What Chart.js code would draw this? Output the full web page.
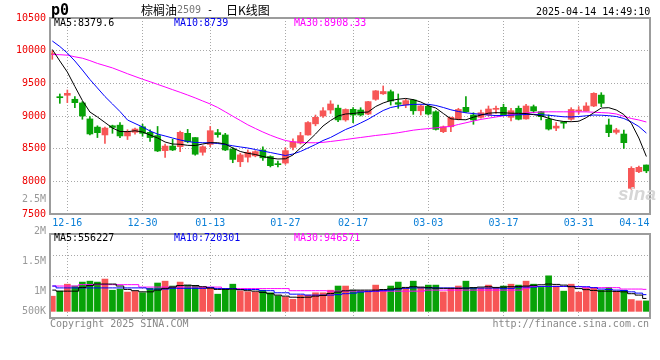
<!DOCTYPE html>
<html>
<head>
<meta charset="utf-8">
<script src="https://cdn.jsdelivr.net/npm/chart.js@4/dist/chart.umd.min.js"></script>
<style>
  html, body { margin: 0; padding: 0; background: #fff; }
  #wrap { position: relative; width: 660px; height: 360px; overflow: hidden;
          font-family: 'DejaVu Sans Mono', monospace; font-size: 10px; }
  #wrap canvas { position: absolute; left: 0; }
  .t { position: absolute; white-space: nowrap; line-height: 12px; }
  .cjk { font-family: 'Noto Sans CJK SC', sans-serif; font-size: 12px; line-height: 13px; }
  .axis-gray { color: #999; text-align: right; width: 46px; left: 0; }
</style>
</head>
<body>
<div id="wrap">
  <canvas id="priceChart" width="660" height="232" style="top:0"></canvas>
  <canvas id="volChart" width="660" height="90" style="top:230px"></canvas>

  <div class="t" style="left:51px;top:2px;font-weight:bold;font-size:15px;line-height:16px">p0</div>
  <div class="t cjk" style="left:141px;top:3px">棕榈油</div>
  <div class="t" style="left:177px;top:4px;color:#777">2509</div>
  <div class="t" style="left:207px;top:4px">-</div>
  <div class="t cjk" style="left:226px;top:3px">日K线图</div>
  <div class="t" style="left:536px;top:6px">2025-04-14 14:49:10</div>

  <div class="t" style="left:54px;top:17px;color:#000">MA5:8379.6</div>
  <div class="t" style="left:174px;top:17px;color:#0000ee">MA10:8739</div>
  <div class="t" style="left:294px;top:17px;color:#ff00ff">MA30:8908.33</div>

  <div class="t" style="left:54px;top:232px;color:#000">MA5:556227</div>
  <div class="t" style="left:174px;top:232px;color:#0000ee">MA10:720301</div>
  <div class="t" style="left:294px;top:232px;color:#ff00ff">MA30:946571</div>

  <div class="t" style="left:618px;top:184px;font-family:'Liberation Sans',sans-serif;font-style:italic;font-weight:bold;font-size:19px;line-height:20px;color:#d6d6d6">sina</div>

  <div class="t" style="left:50px;top:318px;color:#888">Copyright 2025 SINA.COM</div>
  <div class="t" style="right:11px;top:318px;color:#888">http://finance.sina.com.cn</div>
  <div id="volAxis"></div>
</div>
<script>
// trading days shown (Sina daily K, palm oil 2509)
const dates = [
  '12-12','12-13','12-16','12-17','12-18','12-19','12-20','12-23','12-24','12-25',
  '12-26','12-27','12-30','12-31','01-02','01-03','01-06','01-07','01-08','01-09',
  '01-10','01-13','01-14','01-15','01-16','01-17','01-20','01-21','01-22','01-23',
  '01-24','01-27','02-05','02-06','02-07','02-10','02-11','02-12','02-13','02-14',
  '02-17','02-18','02-19','02-20','02-21','02-24','02-25','02-26','02-27','02-28',
  '03-03','03-04','03-05','03-06','03-07','03-10','03-11','03-12','03-13','03-14',
  '03-17','03-18','03-19','03-20','03-21','03-24','03-25','03-26','03-27','03-28',
  '03-31','04-01','04-02','04-03','04-07','04-08','04-09','04-10','04-11','04-14'
];

const openPx = [
  9940, 9290, 9317, 9256, 9200, 8955, 8830, 8710, 8850, 8860,
  8695, 8750, 8835, 8750, 8700, 8470, 8540, 8530, 8735, 8670,
  8445, 8565, 8745, 8710, 8495, 8300, 8370, 8390, 8480, 8380,
  8270, 8280, 8520, 8585, 8710, 8880, 9000, 9092, 9120, 8940,
  9102, 9092, 9030, 9255, 9340, 9372, 9205, 9170, 9245, 9080,
  9150, 9065, 8760, 8835, 8955, 9133, 9015, 8980, 9015, 9102,
  9133, 8980, 9118, 8955, 9143, 9066, 8950, 8815, 8910, 8950,
  9077, 9077, 9153, 9320, 8862, 8750, 8724, 7893, 8147, 8250
];
const highPx = [
  10000, 9337, 9398, 9296, 9220, 8990, 8850, 8830, 8860, 8900,
  8790, 8815, 8875, 8790, 8840, 8570, 8645, 8770, 8795, 8670,
  8545, 8840, 8795, 8735, 8515, 8430, 8480, 8470, 8530, 8390,
  8310, 8515, 8650, 8750, 8915, 9015, 9130, 9234, 9168, 9110,
  9127, 9127, 9225, 9390, 9460, 9398, 9337, 9255, 9255, 9170,
  9170, 9080, 8847, 8985, 9118, 9296, 9050, 9092, 9153, 9153,
  9180, 9118, 9153, 9179, 9168, 9070, 9015, 8898, 8915, 9127,
  9143, 9204, 9357, 9357, 8954, 8812, 8786, 8224, 8235, 8250
];
const lowPx = [
  9868, 9194, 9204, 9127, 8950, 8710, 8670, 8580, 8735, 8670,
  8640, 8720, 8690, 8610, 8455, 8365, 8470, 8455, 8590, 8400,
  8400, 8530, 8675, 8470, 8285, 8225, 8295, 8375, 8320, 8220,
  8220, 8260, 8480, 8570, 8705, 8850, 8980, 9040, 8913, 8920,
  8898, 9000, 9020, 9240, 9330, 9168, 9117, 9127, 9025, 9015,
  9015, 8785, 8745, 8760, 8940, 9055, 8873, 8965, 9000, 9041,
  9005, 8924, 8940, 8950, 9050, 8940, 8785, 8775, 8812, 8935,
  9030, 9075, 9143, 9143, 8684, 8724, 8505, 7878, 8132, 8132
];
const closePx = [
  9945, 9280, 9347, 9204, 9000, 8725, 8745, 8815, 8825, 8695,
  8765, 8800, 8735, 8670, 8465, 8540, 8480, 8750, 8605, 8415,
  8530, 8775, 8715, 8480, 8335, 8405, 8445, 8455, 8360, 8240,
  8255, 8470, 8605, 8700, 8900, 8980, 9080, 9184, 8940, 9100,
  9015, 9015, 9220, 9385, 9375, 9230, 9180, 9235, 9080, 9155,
  9030, 8795, 8835, 8980, 9100, 9065, 8940, 9050, 9107, 9118,
  9015, 9081, 8950, 9153, 9077, 8990, 8800, 8845, 8890, 9100,
  9092, 9153, 9347, 9195, 8745, 8786, 8592, 8199, 8214, 8160
];

const ma5 = [
  10018, 9842, 9673, 9452, 9237, 9061, 8985, 8901, 8816, 8763,
  8760, 8774, 8755, 8709, 8663, 8602, 8571, 8567, 8551, 8548,
  8571, 8591, 8591, 8571, 8510, 8457, 8429, 8411, 8380, 8357,
  8342, 8345, 8403, 8510, 8613, 8724, 8847, 8931, 9000, 9031,
  9038, 9054, 9061, 9145, 9199, 9237, 9257, 9269, 9250, 9214,
  9158, 9122, 9038, 8957, 8946, 8942, 8982, 9015, 9043, 9051,
  9049, 9043, 9041, 9038, 9021, 9003, 8965, 8934, 8916, 8913,
  8919, 8974, 9049, 9122, 9127, 9092, 9023, 8888, 8663, 8380
];
const ma10 = [
  10148, 10064, 9964, 9842, 9704, 9559, 9429, 9298, 9184, 9069,
  8939, 8885, 8832, 8770, 8724, 8694, 8663, 8633, 8610, 8594,
  8591, 8590, 8579, 8564, 8544, 8526, 8510, 8487, 8464, 8441,
  8418, 8395, 8418, 8457, 8510, 8564, 8625, 8671, 8732, 8793,
  8839, 8893, 8950, 9018, 9084, 9130, 9153, 9168, 9178, 9179,
  9179, 9161, 9130, 9095, 9069, 9049, 9037, 9026, 9015, 9006,
  9008, 9012, 9018, 9023, 9026, 9020, 9012, 9000, 8988, 8985,
  8992, 9003, 9015, 9012, 9005, 8992, 8962, 8908, 8839, 8739
];
const ma30 = [
  9941, 9938, 9931, 9906, 9885, 9848, 9805, 9771, 9736, 9692,
  9647, 9605, 9563, 9525, 9484, 9444, 9403, 9363, 9321, 9277,
  9230, 9184, 9130, 9064, 8997, 8931, 8865, 8809, 8755, 8706,
  8663, 8625, 8605, 8597, 8591, 8590, 8597, 8610, 8624, 8640,
  8656, 8671, 8686, 8702, 8714, 8728, 8744, 8763, 8783, 8796,
  8807, 8819, 8830, 8842, 8870, 8896, 8923, 8948, 8966, 8985,
  9003, 9020, 9034, 9046, 9055, 9061, 9064, 9064, 9064, 9064,
  9064, 9063, 9058, 9052, 9046, 9031, 8995, 8962, 8939, 8908
];

// volume in thousands of lots
const volume = [
  652, 870, 1170, 1090, 1260, 1300, 1260, 1390, 910, 960,
  830, 860, 800, 990, 1220, 1300, 1090, 1260, 1120, 1120,
  1030, 1030, 740, 990, 1170, 880, 840, 840, 910, 800,
  670, 620, 520, 700, 700, 800, 800, 910, 1090, 1090,
  910, 880, 870, 1130, 910, 1090, 1260, 1000, 1300, 1030,
  1130, 1130, 840, 970, 1090, 1300, 1030, 990, 1130, 990,
  1090, 1170, 1130, 1300, 1170, 1030, 1530, 1090, 870, 1170,
  830, 990, 1030, 910, 1030, 870, 910, 510, 450, 450
];
const volMa5 = [
  915, 870, 870, 870, 1030, 1110, 1175, 1175, 1175, 1090,
  945, 890, 840, 840, 915, 990, 1045, 1110, 1130, 1110,
  1060, 1000, 945, 945, 960, 930, 890, 870, 815, 760,
  700, 655, 610, 600, 610, 655, 685, 770, 830, 885,
  915, 915, 915, 915, 940, 960, 990, 1030, 1060, 1045,
  1020, 1000, 990, 990, 990, 1000, 1020, 1045, 1060, 1030,
  1045, 1060, 1065, 1090, 1120, 1145, 1175, 1160, 1130, 1060,
  980, 935, 900, 870, 870, 860, 840, 760, 700, 556
];
const volMa10 = [
  1090, 1010, 1010, 1010, 1010, 1010, 1010, 1010, 1010, 1010,
  1010, 1010, 1010, 960, 960, 960, 990, 990, 990, 990,
  990, 1030, 980, 980, 980, 940, 940, 940, 890, 890,
  800, 800, 740, 740, 700, 700, 700, 700, 720, 760,
  785, 830, 850, 870, 890, 915, 960, 990, 1010, 1010,
  1010, 1010, 1010, 1010, 1000, 1000, 1000, 1000, 1000, 1000,
  990, 990, 1045, 1045, 1045, 1075, 1075, 1075, 1075, 1075,
  1060, 1060, 1020, 960, 940, 915, 900, 840, 785, 720
];
const volMa30 = [
  1090, 1090, 1090, 1090, 1150, 1150, 1150, 1150, 1150, 1150,
  1150, 1150, 1045, 1045, 1045, 1045, 1045, 1045, 1045, 1045,
  1045, 1045, 1045, 980, 980, 980, 980, 980, 980, 980,
  980, 980, 890, 890, 890, 890, 890, 870, 870, 870,
  870, 870, 870, 870, 870, 870, 870, 870, 870, 870,
  915, 915, 915, 915, 915, 915, 915, 915, 915, 915,
  915, 915, 915, 1000, 1070, 1070, 1070, 1070, 1070, 1070,
  1070, 1020, 1020, 1020, 1020, 1020, 960, 960, 960, 947
];

const gridDays = ['12-16', '12-30', '01-13', '01-27', '02-17', '03-03', '03-17', '03-31'];
const priceTicks = [7500, 8000, 8500, 9000, 9500, 10000, 10500];
const volTickLabels = ['2.5M', '2M', '1.5M', '1M', '500K'];

const RED = '#f75656';
const GREEN = '#08a208';
const GRID = '#a8a8a8';
const FONT = { family: "'DejaVu Sans Mono', monospace", size: 10 };

Chart.defaults.font = { ...Chart.defaults.font, ...FONT };

const N = dates.length;
const X_MIN = -0.306;
const X_MAX = N - 1 + 0.48;
const gridIdx = gridDays.map((d) => dates.indexOf(d));
// the last date is written flush with the right edge, without a grid line
const lastLabelAt = N - 1 - 1.6;

const candleColor = closePx.map((c, i) => (c >= openPx[i] ? RED : GREEN));
const pts = (arr) => arr.map((v, i) => ({ x: i, y: v }));

const framePlugin = {
    id: 'frame',
    afterDraw(chart) {
        const { ctx, chartArea: a } = chart;
        ctx.save();
        ctx.strokeStyle = '#9c9c9c';
        ctx.lineWidth = 2;
        ctx.strokeRect(a.left, a.top, a.right - a.left, a.bottom - a.top);
        ctx.restore();
    },
};

const xAxis = (withLabels) => ({
    type: 'linear',
    min: X_MIN,
    max: X_MAX,
    offset: false,
    afterBuildTicks: (s) => {
        s.ticks = gridIdx.map((v) => ({ value: v }));
        if (withLabels) s.ticks.push({ value: lastLabelAt });
    },
    afterFit: (s) => {
        s.height = withLabels ? 18 : 0;
    },
    grid: {
        offset: false,
        color: (ctx) => (ctx.tick && ctx.tick.value === lastLabelAt ? 'rgba(0,0,0,0)' : GRID),
        drawTicks: false,
    },
    border: { display: false, dash: [1, 2] },
    ticks: {
        display: withLabels,
        autoSkip: false,
        maxRotation: 0,
        padding: 3,
        color: '#0b7fd7',
        font: FONT,
        callback: (v) => (v === lastLabelAt ? dates[N - 1] : dates[Math.round(v)]),
    },
});

const lineSet = (data, color, extra = {}) => ({
    type: 'line',
    data: pts(data),
    borderColor: color,
    borderWidth: 1,
    pointRadius: 0,
    fill: false,
    tension: 0,
    order: 0,
    ...extra,
});

const createPriceChart = () => {
    const ctx = document.getElementById('priceChart').getContext('2d');
    return new Chart(ctx, {
        type: 'bar',
        data: {
            datasets: [
                lineSet(ma5, '#000000'),
                lineSet(ma10, '#0000ff'),
                lineSet(ma30, '#ff00ff'),
                {
                    data: dates.map((d, i) => ({
                        x: i,
                        y: [Math.min(openPx[i], closePx[i]), Math.max(openPx[i], closePx[i])],
                    })),
                    backgroundColor: candleColor,
                    barThickness: 6,
                    minBarLength: 1,
                    grouped: false,
                    order: 1,
                },
                {
                    data: dates.map((d, i) => ({ x: i, y: [lowPx[i], highPx[i]] })),
                    backgroundColor: candleColor,
                    barThickness: 1,
                    grouped: false,
                    order: 2,
                },
            ],
        },
        options: {
            responsive: false,
            animation: false,
            layout: { padding: { top: 18, right: 10, left: 0, bottom: 0 } },
            plugins: { legend: { display: false }, tooltip: { enabled: false } },
            scales: {
                x: xAxis(true),
                y: {
                    min: priceTicks[0],
                    max: priceTicks[priceTicks.length - 1],
                    afterBuildTicks: (s) => {
                        s.ticks = priceTicks.map((v) => ({ value: v }));
                    },
                    afterFit: (s) => {
                        s.width = 50;
                    },
                    grid: { color: GRID, drawTicks: false },
                    border: { display: false, dash: [1, 2] },
                    ticks: { color: '#ee0000', padding: 4, font: FONT, callback: (v) => String(v) },
                },
            },
        },
        plugins: [framePlugin],
    });
};

const createVolumeChart = () => {
    const ctx = document.getElementById('volChart').getContext('2d');
    return new Chart(ctx, {
        type: 'bar',
        data: {
            datasets: [
                lineSet(volMa5, '#000000', { stepped: 'middle' }),
                lineSet(volMa10, '#0000ff', { stepped: 'middle' }),
                lineSet(volMa30, '#ff00ff', { stepped: 'middle' }),
                {
                    data: pts(volume),
                    backgroundColor: candleColor,
                    barThickness: 6,
                    grouped: false,
                    order: 1,
                },
            ],
        },
        options: {
            responsive: false,
            animation: false,
            layout: { padding: { top: 4, right: 10, left: 0, bottom: 2 } },
            plugins: { legend: { display: false }, tooltip: { enabled: false } },
            scales: {
                x: xAxis(false),
                y: {
                    min: -286,
                    max: 3330,
                    afterBuildTicks: (s) => {
                        const span = s.max - s.min;
                        s.ticks = [0.5, 0.75].map((f) => ({ value: s.min + span * f }));
                    },
                    afterFit: (s) => {
                        s.width = 50;
                    },
                    grid: { color: GRID, drawTicks: false },
                    border: { display: false, dash: [1, 2] },
                    ticks: { display: false },
                },
            },
        },
        plugins: [framePlugin],
    });
};

// Sina prints the volume scale on its own, a little apart from the bars
const volLabelTops = [193, 225, 255, 285, 305];
const addVolumeLabels = () => {
    const holder = document.getElementById('volAxis');
    volTickLabels.forEach((txt, i) => {
        const el = document.createElement('div');
        el.className = 't axis-gray';
        el.style.top = volLabelTops[i] + 'px';
        el.textContent = txt;
        holder.appendChild(el);
    });
};

createPriceChart();
createVolumeChart();
addVolumeLabels();
</script>
</body>
</html>
